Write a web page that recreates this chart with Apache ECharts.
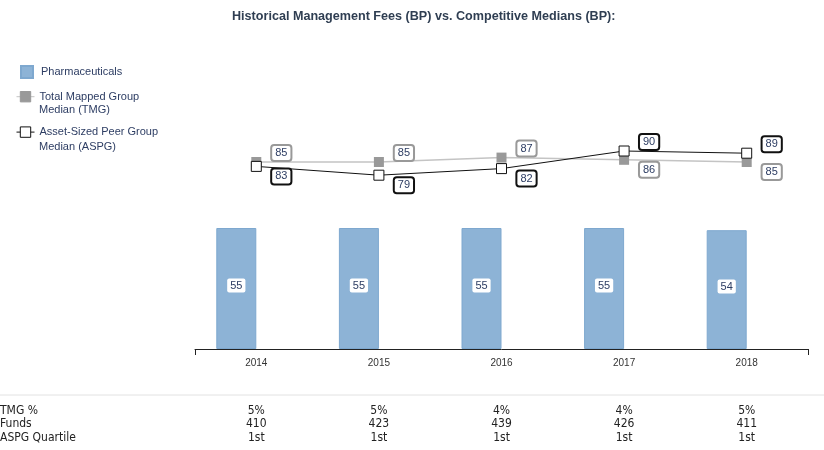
<!DOCTYPE html>
<html>
<head>
<meta charset="utf-8">
<script src="https://cdn.jsdelivr.net/npm/echarts@6/dist/echarts.min.js"></script>
<style>html,body{margin:0;padding:0;background:#fff}#c{width:824px;height:450px}</style>
</head>
<body>
<div id="c"></div>
<script>
const years = ['2014', '2015', '2016', '2017', '2018'];
const pharma = [55, 55, 55, 55, 54];
const tmg = [85, 85, 87, 86, 85];
const aspg = [83, 79, 82, 90, 89];
const tmgPct = ['5%', '5%', '4%', '4%', '5%'];
const funds = ['410', '423', '439', '426', '411'];
const quartile = ['1st', '1st', '1st', '1st', '1st'];
const rowLabels = ['TMG %', 'Funds', 'ASPG Quartile'];
const seriesNames = ['Pharmaceuticals', 'Total Mapped Group', 'Asset-Sized Peer Group'];
const legendSecondLines = ['Median (TMG)', 'Median (ASPG)'];

const FONT = 'Liberation Sans, Arial, sans-serif';
const NARROW = 'Liberation Sans Narrow, Arial Narrow, DejaVu Sans Condensed, sans-serif';
const TXT = '#2d3d63';

const chart = echarts.init(document.getElementById('c'), null, {renderer: 'canvas'});

function lineLabel(border) {
  return {
    show: true, position: 'inside', color: TXT, fontSize: 11, fontFamily: FONT,
    backgroundColor: '#fff', borderColor: border, borderWidth: 2, borderRadius: 2,
    padding: [2, 3, 1, 3]
  };
}

const tableRows = [tmgPct, funds, quartile];
const rowOffsets = [56, 69, 83];

const xAxes = [{
  type: 'category', data: years, gridIndex: 0,
  axisLine: {show: true, lineStyle: {color: '#222', width: 1}},
  axisTick: {show: true, interval: function (i) { return i === 0; }, length: 6, lineStyle: {color: '#222'}},
  axisLabel: {fontSize: 10, color: '#333', fontFamily: FONT, margin: 9}
}];
tableRows.forEach(function (row, k) {
  xAxes.push({
    type: 'category', data: row, gridIndex: 0, position: 'bottom', offset: rowOffsets[k],
    axisLine: {show: false}, axisTick: {show: false},
    axisLabel: {fontSize: 12, color: '#222', fontFamily: NARROW, margin: 0, interval: 0}
  });
});

const graphics = [{
  type: 'line', shape: {x1: 0, y1: 395, x2: 824, y2: 395},
  style: {stroke: '#e2e2e2', lineWidth: 1}
}];
rowLabels.forEach(function (t, k) {
  graphics.push({
    type: 'text', left: 0, top: 349 + rowOffsets[k],
    style: {text: t, fontSize: 12, fill: '#222', fontFamily: NARROW}
  });
});
legendSecondLines.forEach(function (t, k) {
  graphics.push({
    type: 'text', left: 39, top: 104 + k * 37,
    style: {text: t, fontSize: 11, fill: TXT, fontFamily: FONT}
  });
});

chart.setOption({
  animation: false,
  title: {
    text: 'Historical Management Fees (BP) vs. Competitive Medians (BP):',
    left: 232, top: 10, padding: 0,
    textStyle: {fontSize: 12.6, fontWeight: 'bold', color: '#2f3e52', fontFamily: FONT}
  },
  legend: [{
    data: [{name: seriesNames[0], icon: 'rect'}], orient: 'vertical', left: 20, top: 65, padding: 0,
    itemWidth: 12, itemHeight: 12, itemGap: 10,
    textStyle: {fontSize: 11, color: TXT, fontFamily: FONT, padding: [0, 0, 0, 3]}
  }, {
    data: [seriesNames[1], seriesNames[2]], orient: 'vertical', left: 16, top: 91, padding: 0,
    itemWidth: 18, itemHeight: 13, itemGap: 24,
    itemStyle: {borderWidth: 1},
    lineStyle: {width: 1},
    textStyle: {fontSize: 11, color: TXT, fontFamily: FONT}
  }],
  grid: {left: 195, right: 16, top: 129, bottom: 101, containLabel: false},
  xAxis: xAxes,
  yAxis: {type: 'value', min: 0, max: 100, show: false},
  graphic: graphics,
  series: [{
    name: seriesNames[0], type: 'bar', data: pharma, barWidth: 40, barGap: '0%',
    itemStyle: {color: '#8db3d6', borderColor: '#7ea8cf', borderWidth: 1},
    label: {
      show: true, position: 'inside', offset: [0, -3], color: TXT, fontSize: 11, fontFamily: FONT,
      backgroundColor: '#fff', borderRadius: 2, padding: [2, 3, 1, 3]
    }
  }, {
    name: 'spacer', type: 'bar', data: pharma.map(function () { return null; }), barWidth: 40
  }, {
    name: seriesNames[1], type: 'line',
    data: tmg.map(function (v, i) { return {value: v, label: {offset: [25, v >= aspg[i] ? -9 : 10]}}; }),
    symbol: 'rect', symbolSize: 10,
    lineStyle: {color: '#c4c4c4', width: 1.5},
    itemStyle: {color: '#999999', borderColor: '#999999', borderWidth: 0},
    label: lineLabel('#999999')
  }, {
    name: seriesNames[2], type: 'line',
    data: aspg.map(function (v, i) { return {value: v, label: {offset: [25, v > tmg[i] ? -9 : 10]}}; }),
    symbol: 'rect', symbolSize: 10,
    lineStyle: {color: '#111', width: 1},
    itemStyle: {color: '#fff', borderColor: '#111', borderWidth: 1},
    label: lineLabel('#111')
  }]
});
</script>
</body>
</html>
